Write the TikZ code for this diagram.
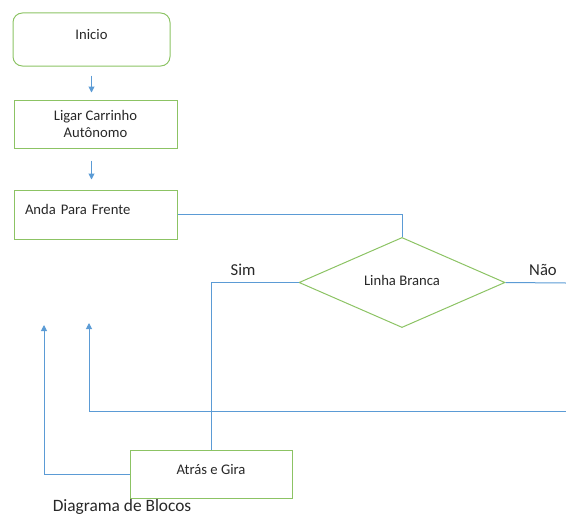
\documentclass[tikz,border=0pt]{standalone}
\usepackage{fontspec}
\setmainfont{Carlito}
\usetikzlibrary{shapes.geometric,arrows.meta}
\definecolor{boxgreen}{RGB}{140,195,100}
\definecolor{lineblue}{RGB}{91,155,213}
\definecolor{textgray}{RGB}{40,40,40}
\tikzset{
	block/.style={draw=boxgreen, line width=.75pt, text=textgray, font=\fontsize{11}{13}\selectfont, align=center},
	raised/.style={text depth=.7em},
	decision/.style={diamond, draw=boxgreen, line width=.75pt, inner sep=0pt, text=textgray, font=\fontsize{11}{13}\selectfont},
	link/.style={draw=lineblue, line width=.75pt},
	flow/.style={link, -{Triangle[length=4.5pt, width=4.5pt]}},
	answer/.style={text=textgray, font=\fontsize{12.5}{15}\selectfont}
}
\begin{document}
\begin{tikzpicture}[x=.75pt, y=-.75pt]
	\useasboundingbox (0,0) rectangle (566,517);
	\node[block, raised, rounded corners=7pt, minimum width=117.75pt, minimum height=39.75pt] (inicio) at (91.5, 39.5) {Inicio};
	\node[block, minimum width=122.25pt, minimum height=36pt] (ligar) at (95.5, 124) {Ligar Carrinho\\Autônomo};
	\node[block, raised, align=left, text width=105.75pt, minimum width=122.25pt, minimum height=36.75pt] (anda) at (95.5, 214.5) {Anda Para Frente};
	\node[decision, minimum width=154.5pt, minimum height=60.75pt] (linha) at (402, 282.5) {\raisebox{3pt}{Linha Branca}};
	\node[block, raised, minimum width=121.5pt, minimum height=36pt] (atras) at (211, 474) {Atrás e Gira};
	\node[answer] (sim) at (243, 270) {Sim};
	\node[answer] (nao) at (543, 270) {Não};
	\node[text=textgray, font=\fontsize{13}{15}\selectfont] (titulo) at (122, 507) {Diagrama de Blocos};
	\coordinate (naoFim) at (566, 283);
	\coordinate (voltaInicio) at (566, 411);
	\coordinate (setaVolta) at (89, 323);
	\coordinate (setaGira) at (44, 325);
	\draw[flow, shorten <=6.75pt, shorten >=5.25pt] (inicio.south) -- (inicio.south |- ligar.north);
	\draw[flow, shorten <=9pt, shorten >=7.5pt] (ligar.south -| inicio.south) -- (anda.north -| inicio.south);
	\draw[link] (anda.east) -| (linha.north);
	\draw[link] (linha.west) -| (atras.north);
	\draw[link] (linha.east) -- (naoFim);
	\draw[flow] (voltaInicio) -| (setaVolta);
	\draw[flow] (atras.west) -| (setaGira);
\end{tikzpicture}
\end{document}
